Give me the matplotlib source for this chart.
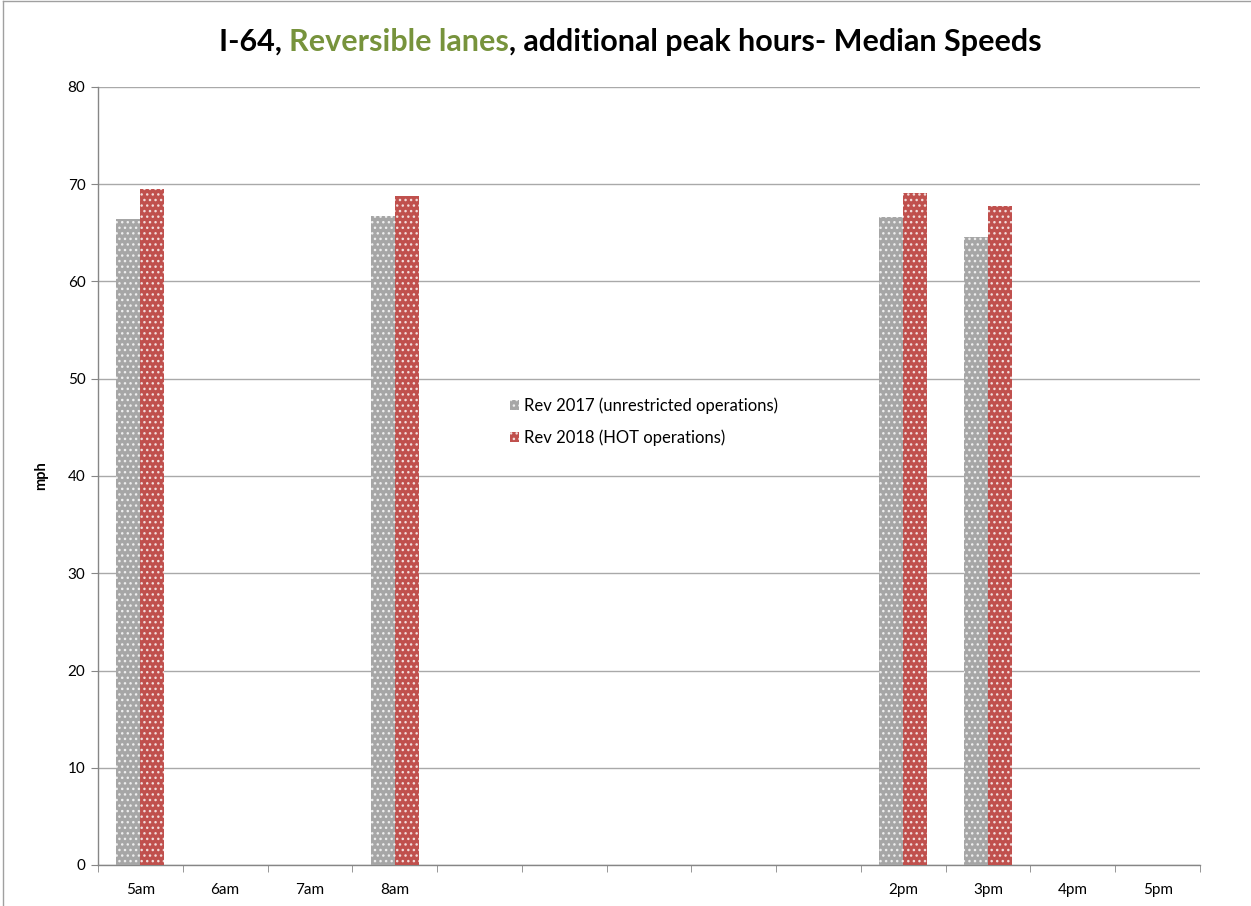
import matplotlib
matplotlib.use("Agg")
import matplotlib.pyplot as plt
import numpy as np

plt.rcParams["font.family"] = ["Lato", "DejaVu Sans"]
plt.rcParams["hatch.linewidth"] = 1.0

CATEGORIES = ["5am", "6am", "7am", "8am", "", "", "", "", "", "2pm", "3pm", "4pm", "5pm"]
REV_2017 = [66.4, np.nan, np.nan, 66.7, np.nan, np.nan, np.nan, np.nan, np.nan, 66.6, 64.6, np.nan, np.nan]
REV_2018 = [69.5, np.nan, np.nan, 68.8, np.nan, np.nan, np.nan, np.nan, np.nan, 69.1, 67.8, np.nan, np.nan]
LABEL_2017 = "Rev 2017 (unrestricted operations)"
LABEL_2018 = "Rev 2018 (HOT operations)"

GRAY = "#A6A6A6"
RED = "#C0504D"
GREEN = "#77933C"

W, H = 1251, 906
fig = plt.figure(figsize=(W / 100, H / 100), dpi=100)
ax = fig.add_axes([98 / W, 1 - 865 / H, (1200 - 98) / W, (865 - 87) / H])

x = np.arange(len(CATEGORIES))
bw = 0.283
b1 = ax.bar(x - bw / 2, REV_2017, bw, color=GRAY, edgecolor="#EDEDED", linewidth=0,
            hatch="...", label=LABEL_2017, zorder=3)
b2 = ax.bar(x + bw / 2, REV_2018, bw, color=RED, edgecolor="#F2DCDB", linewidth=0,
            hatch="...", label=LABEL_2018, zorder=3)

ax.set_xlim(-0.5, len(CATEGORIES) - 0.5)
ax.set_ylim(0, 80)
ax.set_yticks(range(0, 81, 10))
ax.set_xticks(x)
ax.set_xticklabels(CATEGORIES)
ax.set_xticks(np.arange(-0.5, len(CATEGORIES), 1), minor=True)
ax.tick_params(axis="x", which="major", length=0, pad=13, labelsize=11)
ax.tick_params(axis="x", which="minor", length=5, color="#868686", direction="out")
ax.tick_params(axis="y", length=5, color="#868686", labelsize=11, pad=4)
ax.grid(axis="y", color="#A9A9A9", linewidth=1, zorder=0)
for s in ["top", "right"]:
    ax.spines[s].set_visible(False)
for s in ["left", "bottom"]:
    ax.spines[s].set_color("#868686")
    ax.spines[s].set_linewidth(1)
ax.set_ylabel("mph", fontsize=10.5, fontweight="bold", labelpad=14)

fig.legend(handles=[b1, b2], loc="upper left", bbox_to_anchor=(503 / W, 1 - 391 / H),
           frameon=False, fontsize=12, handlelength=0.55, handleheight=0.55,
           handletextpad=0.3, labelspacing=0.9, borderaxespad=0)

# multi-coloured title
parts = [("I-64, ", "black"), ("Reversible lanes", GREEN),
         (", additional peak hours- Median Speeds", "black")]
fig.canvas.draw()
r = fig.canvas.get_renderer()
texts = []
widths = []
for s, c in parts:
    t = fig.text(0, 1 - 42 / H, s, color=c, fontsize=22, fontweight="bold", va="center")
    widths.append(t.get_window_extent(r).width)
    texts.append(t)
total = sum(widths)
x0 = (630 - total / 2)
for t, w in zip(texts, widths):
    t.set_x(x0 / W)
    x0 += w

# outer chart border (cropped)
fig.add_artist(plt.Line2D([3 / W, 3 / W], [0, 1 - 1 / H], color="#A0A0A0", lw=1))
fig.add_artist(plt.Line2D([3 / W, 1], [1 - 1 / H, 1 - 1 / H], color="#A0A0A0", lw=1))

fig.savefig("out.png", dpi=100)
